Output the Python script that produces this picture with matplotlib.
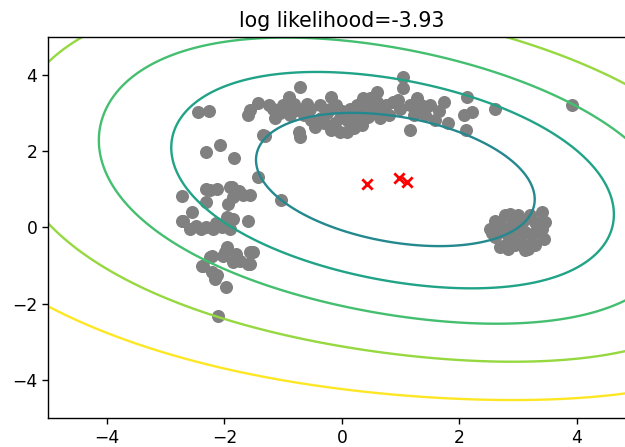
import numpy as np
import matplotlib
matplotlib.use("Agg")
import matplotlib.pyplot as plt

# Gaussian mixture: weights, means (red crosses) and covariances
weights = [0.778, 0.068, 0.154]
means = [[0.42, 1.15], [0.97, 1.30], [1.11, 1.18]]
covariances = [
    [[31.520, -3.150], [-3.150, 15.691]],
    [[4.493, -0.533], [-0.533, 2.054]],
    [[10.323, -5.081], [-5.081, 7.507]],
]
# negative log-density levels drawn as contour lines
levels = [4.656, 5.003, 5.319, 5.688, 6.102]
level_colors = [0.47, 0.58, 0.70, 0.84, 1.0]

mean_log_likelihood = -3.93

# observed samples
arc_x = [-2.45, -2.26, -1.60, -1.43, -1.57, -1.34, -1.17, -1.14, -1.00, -0.91,
         -0.89, -0.77, -0.72, -0.74, -0.72, -0.55, -0.52, -0.37, -0.35, -0.46,
         -0.18, -0.20, -0.12, -0.18, -0.03, 0.08, -0.03, 0.14, 0.25, 0.22,
         0.36, 0.34, 0.48, 0.59, 0.53, 0.65, 0.70, 0.87, 0.99, 1.04,
         1.04, 1.16, 1.22, 1.27, 1.16, 1.41, 1.50, 1.58, 1.73, 1.81,
         2.12, 2.07, 2.21, 2.11, 2.60, 3.91, -1.31, -1.05, -0.95, -0.65,
         -0.60, -0.25, -0.10, 0.00, 0.10, 0.30, 0.45, 0.40, 0.75, 0.80,
         0.95, 1.30, 1.35, 1.65, -1.25, -0.82, 0.20, -0.30, 0.60]
arc_y = [3.03, 3.06, 2.95, 3.26, 3.08, 2.42, 3.12, 2.86, 3.21, 3.43,
         2.95, 3.08, 3.69, 2.51, 2.38, 3.12, 2.82, 3.21, 2.86, 2.64,
         3.43, 3.12, 2.73, 2.55, 2.86, 2.51, 2.51, 3.12, 3.21, 2.82,
         3.39, 2.68, 3.39, 3.56, 3.12, 2.86, 3.03, 3.30, 3.12, 3.65,
         3.96, 3.21, 2.95, 3.39, 2.55, 2.95, 3.21, 2.82, 3.30, 2.73,
         3.43, 2.95, 3.03, 2.55, 3.10, 3.21, 2.39, 3.00, 3.10, 2.95,
         3.25, 3.00, 3.20, 3.05, 2.80, 3.00, 2.90, 3.15, 3.20, 2.95,
         3.35, 3.05, 3.20, 3.05, 3.20, 3.25, 2.60, 2.75, 3.30]

left_x = [-2.31, -2.08, -1.84, -1.43, -1.03, -2.73, -2.31, -2.13, -1.91, -1.57,
          -1.94, -2.31, -2.56, -2.73, -2.59, -2.40, -2.20, -2.05, -1.91, -1.85,
          -1.60, -2.25, -1.88, -1.85, -1.68, -1.75, -2.48, -2.31, -2.08, -1.96,
          -1.96, -2.22, -2.02, -1.85, -1.74, -1.57, -1.51, -1.57, -1.99, -1.60,
          -2.39, -2.36, -2.22, -2.13, -2.16, -1.98, -2.11, -2.25, -2.70, -2.15,
          -1.80]
left_y = [1.98, 2.16, 1.82, 1.32, 0.71, 0.82, 1.02, 1.02, 1.06, 0.84,
          0.62, 0.67, 0.40, 0.18, -0.03, -0.03, -0.03, 0.00, -0.03, 0.23,
          0.18, 0.97, 1.06, 0.80, 0.84, 0.95, 0.05, 0.01, 0.05, 0.27,
          -0.52, -0.76, -0.74, -0.91, -0.87, -0.96, -0.65, -0.65, -0.65, -0.96,
          -1.00, -1.00, -1.18, -1.26, -1.35, -1.57, -2.33, -0.78, 0.18, 0.12,
          -0.70]

blob_x = [2.52, 2.61, 2.78, 3.00, 3.20, 3.29, 3.40, 3.43, 3.29, 3.17,
          3.12, 2.95, 2.78, 2.61, 2.83, 3.12, 2.75, 2.95, 3.12, 3.23,
          3.40, 3.46, 2.69, 3.15, 2.86, 2.90, 3.05, 2.85, 3.00, 2.70,
          3.30, 2.55, 2.95, 3.10]
blob_y = [-0.03, 0.18, 0.32, 0.32, 0.32, 0.14, -0.03, -0.30, -0.47, -0.56,
          -0.47, -0.47, -0.47, -0.26, -0.56, -0.60, -0.12, -0.03, -0.12, -0.21,
          0.40, 0.14, -0.52, -0.52, 0.36, 0.10, 0.10, -0.25, -0.25, 0.05,
          -0.10, -0.15, 0.20, 0.20]

samples_x = np.array(arc_x + left_x + blob_x)
samples_y = np.array(arc_y + left_y + blob_y)


def neg_log_density(points):
    dens = np.zeros(len(points))
    for w, mu, cov in zip(weights, means, covariances):
        cov = np.asarray(cov)
        d = points - np.asarray(mu)
        m2 = np.einsum("ni,ij,nj->n", d, np.linalg.inv(cov), d)
        dens += w * np.exp(-0.5 * m2) / (2 * np.pi * np.sqrt(np.linalg.det(cov)))
    return -np.log(dens)


fig = plt.figure(figsize=(6.25, 4.47), dpi=100)
ax = fig.add_axes([0.0772, 0.0651, 0.94, 0.8523])

ax.scatter(samples_x, samples_y, s=70, c="gray", zorder=1)

grid = np.linspace(-5, 5, 400)
X, Y = np.meshgrid(grid, grid)
Z = neg_log_density(np.column_stack([X.ravel(), Y.ravel()])).reshape(X.shape)
cmap = plt.get_cmap("viridis")
ax.contour(X, Y, Z, levels=levels, colors=[cmap(v) for v in level_colors],
           linewidths=1.7, zorder=2)

mu = np.array(means)
ax.scatter(mu[:, 0], mu[:, 1], marker="x", c="red", s=55, linewidths=2, zorder=3)

ax.set_xlim(-5, 5)
ax.set_ylim(-5, 5)
ax.set_xticks([-4, -2, 0, 2, 4])
ax.set_yticks([-4, -2, 0, 2, 4])
ax.tick_params(labelsize=12.3, length=4.3, width=1.0)
for s in ax.spines.values():
    s.set_linewidth(1.0)
ax.set_title("log likelihood=%.2f" % mean_log_likelihood, fontsize=14.8, pad=7)

fig.savefig("out.png")
